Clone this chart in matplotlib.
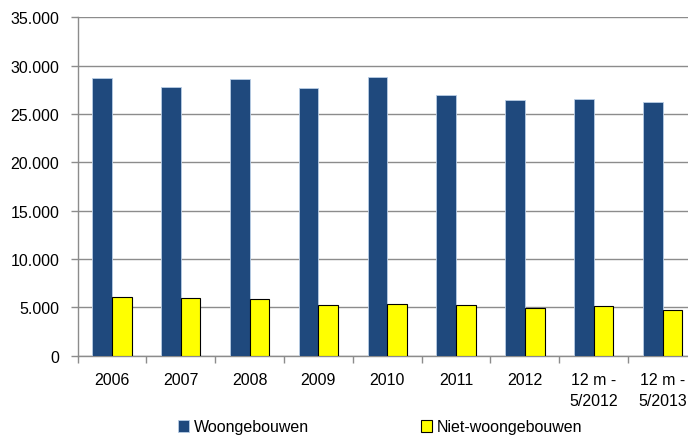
import numpy as np
import matplotlib.pyplot as plt
from matplotlib.ticker import FuncFormatter

categories = ["2006", "2007", "2008", "2009", "2010", "2011", "2012",
              "12 m -\n5/2012", "12 m -\n5/2013"]
woongebouwen = [28700, 27800, 28600, 27700, 28850, 27000, 26450, 26600, 26200]
niet_woongebouwen = [6100, 6000, 5900, 5250, 5300, 5200, 4950, 5150, 4750]

plt.rcParams['font.family'] = ['Liberation Sans Narrow', 'Liberation Sans', 'DejaVu Sans']
plt.rcParams['font.size'] = 11.5

W, H = 688, 439
fig = plt.figure(figsize=(W / 100, H / 100), dpi=100)
ax = fig.add_axes([77.5 / W, (H - 356.7) / H, (697 - 77.5) / W, (356.7 - 18.3) / H])

x = np.arange(len(categories))
bw = 0.285
ax.bar(x - bw / 2, woongebouwen, bw, color="#1F497D", edgecolor="#B9CDE5",
       linewidth=0.6, label="Woongebouwen", zorder=3)
ax.bar(x + bw / 2, niet_woongebouwen, bw, color="#FFFF00", edgecolor="#000000",
       linewidth=0.8, label="Niet-woongebouwen", zorder=3)

ax.set_xlim(-0.5, len(categories) - 0.5)
ax.set_ylim(0, 35000)
ax.set_yticks(np.arange(0, 35001, 5000))
ax.yaxis.set_major_formatter(FuncFormatter(lambda v, p: f"{int(v):,}".replace(",", ".")))
ax.yaxis.grid(True, color="#8C8C8C", linewidth=1.0, zorder=0)

ax.set_xticks(x)
ax.set_xticklabels(categories, linespacing=1.45)
ax.set_xticks(np.arange(-0.5, len(categories), 1), minor=True)
ax.tick_params(axis="x", which="major", length=0, pad=12)
ax.tick_params(axis="x", which="minor", length=5, color="#8C8C8C", width=1)
ax.tick_params(axis="y", length=5, color="#8C8C8C", width=1, pad=8)

for side in ("top", "right"):
    ax.spines[side].set_visible(False)
for side in ("left", "bottom"):
    ax.spines[side].set_color("#8C8C8C")
    ax.spines[side].set_linewidth(1.0)

fig.legend(loc="center", bbox_to_anchor=(380 / W, 1 - 428 / H), ncol=2,
           frameon=False, handlelength=0.7, handleheight=0.7, handletextpad=0.3,
           columnspacing=7.0)

fig.savefig("out.png", dpi=100)
